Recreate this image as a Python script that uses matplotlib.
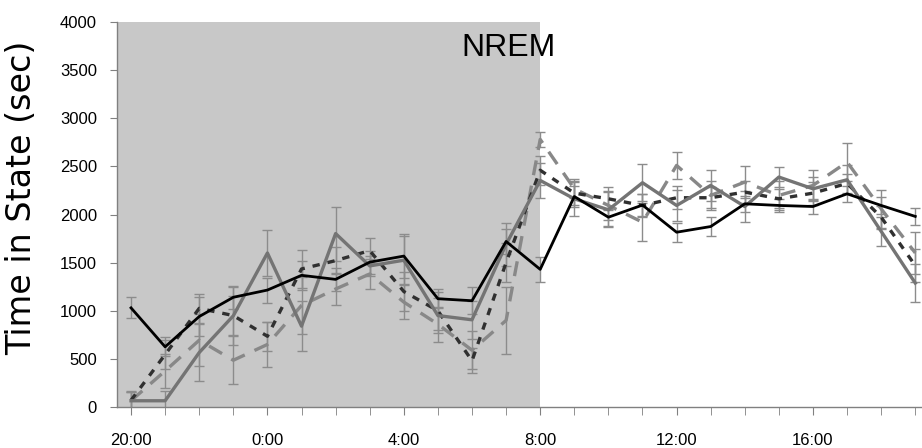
import matplotlib
matplotlib.use("Agg")
import matplotlib.pyplot as plt
import numpy as np

# hourly bins, 20:00 through 19:00 the next day
hours = ['20:00', '21:00', '22:00', '23:00', '0:00', '1:00', '2:00', '3:00',
         '4:00', '5:00', '6:00', '7:00', '8:00', '9:00', '10:00', '11:00',
         '12:00', '13:00', '14:00', '15:00', '16:00', '17:00', '18:00', '19:00']
tick_labels = ['20:00', '0:00', '4:00', '8:00', '12:00', '16:00']

# mean time in NREM per hour (sec) and SEM for each group
black_mean = [1030, 625, 940, 1140, 1215, 1368, 1326, 1505, 1568, 1125, 1104, 1720,
              1430, 2187, 1972, 2098, 1816, 1875, 2111, 2094, 2083, 2215, 2094, 1980]
black_err = [110, 100, 200, 120, 130, 150, 120, 120, 230, 100, 140, 130,
             130, 110, 90, 110, 100, 100, 80, 70, 80, 80, 90, 90]

gray_mean = [65, 65, 566, 948, 1600, 840, 1802, 1466, 1525, 950, 906, 1690,
             2354, 2163, 2049, 2330, 2094, 2302, 2083, 2389, 2267, 2361, 1825, 1288]
gray_err = [90, 100, 300, 300, 240, 260, 280, 100, 250, 180, 200, 220,
            180, 180, 180, 190, 160, 160, 160, 100, 120, 150, 150, 200]

dark_dash_mean = [70, 545, 1025, 950, 735, 1434, 1521, 1625, 1200, 1000, 480, 1500,
                  2460, 2222, 2163, 2094, 2174, 2174, 2233, 2163, 2222, 2323, 1972, 1469]
dark_dash_err = [100, 150, 150, 200, 150, 200, 140, 130, 200, 200, 130, 200,
                 150, 120, 120, 120, 120, 110, 110, 100, 120, 100, 120, 170]

light_dash_mean = [65, 375, 694, 486, 650, 1055, 1226, 1382, 1090, 860, 590, 900,
                   2780, 2267, 2094, 1920, 2510, 2198, 2337, 2198, 2302, 2545, 2059, 1601]
light_dash_err = [90, 180, 270, 250, 230, 300, 170, 160, 180, 180, 200, 350,
                  80, 100, 150, 200, 140, 150, 170, 150, 160, 200, 200, 220]

x = np.arange(len(hours))

fig = plt.figure(figsize=(9.22, 4.48), dpi=100)
ax = fig.add_axes([0.1264, 0.0915, 0.8737, 0.8594])

# dark phase shading
ax.axvspan(-0.425, hours.index('8:00'), color='#c8c8c8', lw=0, zorder=0)

series = [
    (light_dash_mean, light_dash_err, dict(color='#888888', lw=2.4, dashes=(4.5, 3.2))),
    (dark_dash_mean, dark_dash_err, dict(color='#303030', lw=2.4, dashes=(2.2, 2.4))),
    (gray_mean, gray_err, dict(color='#747474', lw=2.4, ls='-')),
    (black_mean, black_err, dict(color='#000000', lw=2.0, ls='-')),
]
for mean, err, style in series:
    ax.errorbar(x, mean, yerr=err, fmt='none', ecolor='#8c8c8c', elinewidth=1,
                capsize=3.5, capthick=1, zorder=2)
for mean, err, style in series:
    ax.plot(x, mean, zorder=3, **style)

ax.text(11.06, 3730, 'NREM', ha='center', va='center', fontsize=23,
        family='Liberation Sans', color='#000000')

ax.set_xlim(-0.425, 23.2)
ax.set_ylim(0, 4000)
ax.set_yticks(np.arange(0, 4001, 500))
ax.set_xticks(x, minor=True)
ax.set_xticks([hours.index(t) for t in tick_labels])
ax.set_xticklabels(tick_labels)

for side in ['top', 'right']:
    ax.spines[side].set_visible(False)
for side in ['left', 'bottom']:
    ax.spines[side].set_color('#808080')
    ax.spines[side].set_linewidth(1)

ax.tick_params(axis='x', which='both', direction='out', length=6, color='#808080',
               pad=13, labelsize=12)
ax.tick_params(axis='y', direction='out', length=5, color='#808080', pad=9,
               labelsize=12)
for lab in ax.get_xticklabels() + ax.get_yticklabels():
    lab.set_family('Liberation Sans')

fig.text(22 / 922, 1 - 198 / 448, 'Time in State (sec)', rotation=90,
         ha='center', va='center', fontsize=24, family='DejaVu Sans')

fig.savefig('out.png', dpi=100)
